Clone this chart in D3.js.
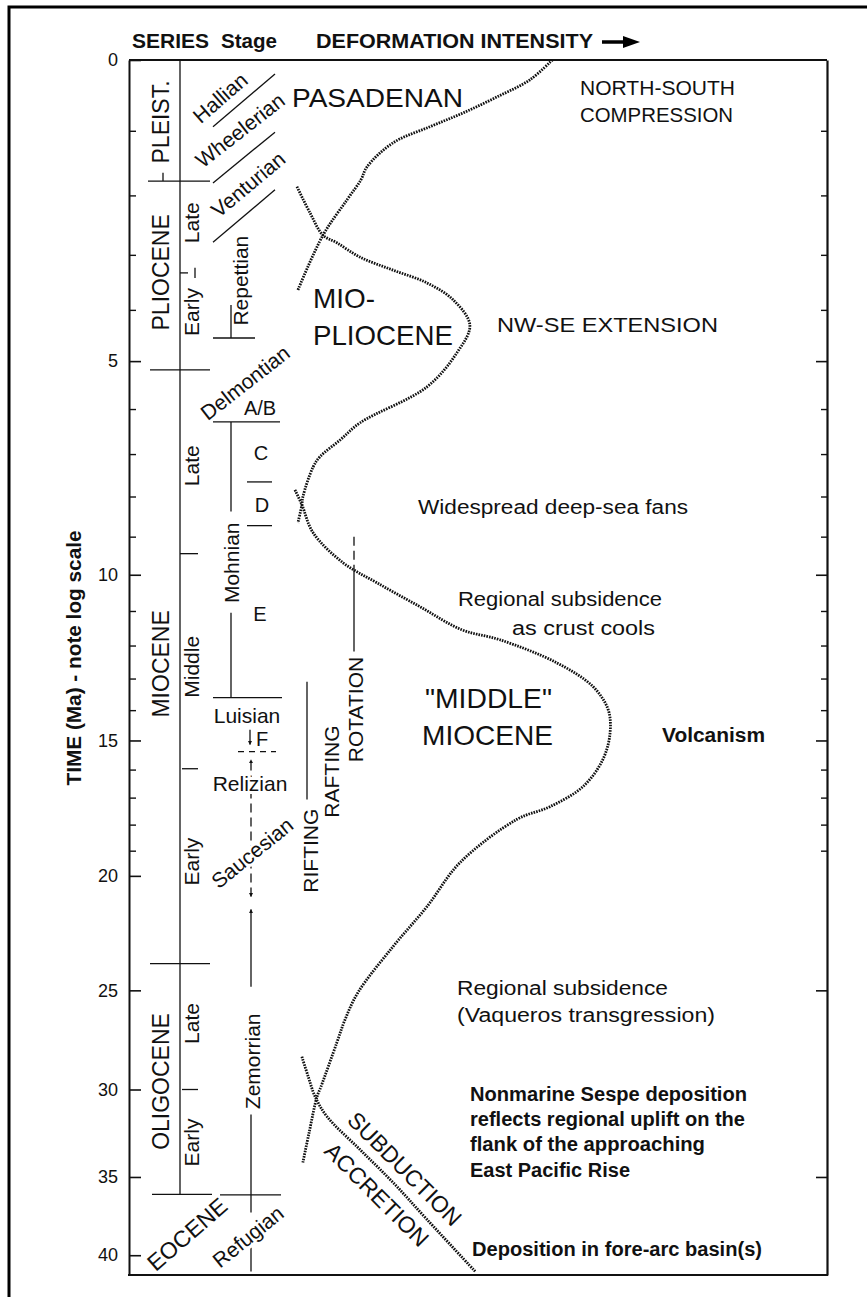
<!DOCTYPE html>
<html><head><meta charset="utf-8">
<script src="https://cdn.jsdelivr.net/npm/d3@7"></script>
<style>
body{margin:0;background:#fff}
svg{display:block}
text{font-family:"Liberation Sans",Arial,Helvetica,sans-serif}
</style>
</head><body>
<svg id="c" width="867" height="1297"></svg>
<script>
// ---------------- DATA ----------------
const majorTicks = [0,5,10,15,20,25,30,35,40];
const minorTicks = [1,2,3,4,6,7,8,9,11,12,13,14,16,17,18,19];
const rightMajorTicks = [5,10,15,25,35];

const seriesNames = ["PLEIST.","PLIOCENE","MIOCENE","OLIGOCENE"];
const seriesLabelAge = [0.87,3.31,12.55,29.57];
const eoceneLabelAge = 38.6;
const seriesBoundaryAges = [1.77,5.18,23.76,36.07];

const subSeriesNames = ["Late","Early","Late","Middle","Early","Late","Early"];
const subSeriesLabelAge = [2.45,4.04,7.27,12.64,19.43,26.6,32.96];
const subSeriesBoundaryAges = [3.32,9.44,15.97,30.0];

const stageNames = ["Hallian","Wheelerian","Venturian","Repettian","Delmontian","Mohnian","Luisian","Relizian","Saucesian","Zemorrian","Refugian"];
const stageLabelAge = [0.52,0.99,1.82,3.46,5.44,9.68,14.16,16.5,19.08,28.51,38.75];
const zoneNames = ["A/B","C","D","E","F"];
const zoneLabelAge = [5.97,6.97,8.20,11.08,14.94];
const diagonalBoundaryAges = [[0.94,0.19],[1.80,1.02],[2.78,1.91]];
const stageBoundaryAges = [4.54,6.28,7.65,8.72,13.6,36.1];
const dashedBoundaryAge = 15.38;

const tectonicNames = ["RIFTING","RAFTING","ROTATION"];
const tectonicLabelAge = [19.0,16.07,13.98];

// deformation-intensity curves: age (Ma) and relative intensity (0-100)
const pasadenanAge = [0,0.27,0.51,0.74,0.94,1.18,1.55,1.75,2.07,2.66,3.63];
const pasadenanIntensity = [79.5,72.7,62.7,52.4,42.4,31.2,23.3,21.5,17.3,10,2.4];
const mioPlioAge = [1.86,2.29,2.66,2.79,3.04,3.27,3.50,3.81,4.29,4.83,5.53,6.30,6.68,7.06,7.30,8.01,8.20,8.65];
const mioPlioIntensity = [2.1,6.1,10,14.2,21.2,31.2,41.5,49.4,54.5,50.6,41.5,21.2,15.2,9.1,7.0,3.9,3.6,2.4];
const midMioAge = [7.84,8.20,8.90,9.68,10.22,10.88,11.54,11.83,12.52,13.25,13.98,14.74,15.65,16.6,17.33,17.8,19.47,21.27,23.0,25.1,26.4,27.55,29.84,30.38,32.38,34.13];
const midMioIntensity = [1.5,3.6,7.0,16.1,26.4,39.4,52.1,63.6,80.9,91.8,96.4,97.0,94.8,88.8,78.8,68.8,51.5,41.5,31.2,20.6,16.7,14.2,9.4,8.2,5.8,3.9];
const subductionAge = [28.27,29.3,30.38,31.48,33.37,35.33,37.65,41.1];
const subductionIntensity = [3.6,5.5,7.6,11.2,21.2,31.2,41.5,56.1];

// ---------------- SETUP ----------------
const svg = d3.select("#c");
const INK = "#111";
const AGE_SHIFT = 10;                       // "log scale": log(age + 10)
const y = d3.scaleLog().domain([AGE_SHIFT, AGE_SHIFT + 41.35]).range([60, 1275]);
const Y = t => y(t + AGE_SHIFT);
const x = d3.scaleLinear().domain([0,100]).range([290,620]);
const PLOT = {left:129, right:827, top:60, bottom:1275};

const defs = svg.append("defs");
defs.append("marker").attr("id","arr").attr("viewBox","0 0 10 10").attr("refX",9).attr("refY",5)
  .attr("markerWidth",4).attr("markerHeight",4).attr("markerUnits","userSpaceOnUse")
  .attr("orient","auto-start-reverse")
  .append("path").attr("d","M0,0 L10,5 L0,10 z").attr("fill",INK);

function label(s, o){
  const t = svg.append("text").text(s)
    .attr("font-size", o.size).attr("font-weight", o.weight || "normal")
    .attr("fill", INK).attr("text-anchor", o.anchor || "start");
  const yy = o.y !== undefined ? o.y : Y(o.age);
  if (o.rotate !== undefined){
    t.attr("transform", `translate(${o.x},${yy}) rotate(${o.rotate})`).attr("dy","0.36em");
  } else {
    t.attr("x", o.x).attr("y", yy);
    if (o.center) t.attr("dy","0.36em");
  }
  if (o.len) t.attr("textLength", o.len).attr("lengthAdjust","spacingAndGlyphs");
  if (o.halo) t.attr("stroke","#fff").attr("stroke-width",6).attr("paint-order","stroke").attr("stroke-linejoin","round");
  return t;
}
function hline(x0,x1,age,w,dash){
  return svg.append("line").attr("x1",x0).attr("x2",x1).attr("y1",Y(age)).attr("y2",Y(age))
    .attr("stroke",INK).attr("stroke-width",w||1.3).attr("stroke-dasharray",dash||null);
}
function vline(xx,a0,a1,w,dash){
  return svg.append("line").attr("x1",xx).attr("x2",xx).attr("y1",Y(a0)).attr("y2",Y(a1))
    .attr("stroke",INK).attr("stroke-width",w||1.3).attr("stroke-dasharray",dash||null);
}

// ---------------- OUTER FRAME & HEADER ----------------
svg.append("path").attr("d","M9,1297 V7 H867").attr("fill","none").attr("stroke","#000").attr("stroke-width",3);
label("SERIES",{x:132,y:48,size:21,weight:"bold",len:77});
label("Stage",{x:221,y:48,size:21,weight:"bold",len:56});
label("DEFORMATION INTENSITY",{x:316,y:48,size:21,weight:"bold",len:277});
svg.append("line").attr("x1",602).attr("x2",626).attr("y1",42).attr("y2",42).attr("stroke","#000").attr("stroke-width",3.5);
svg.append("path").attr("d","M623,36 L640,42 L623,48 Z").attr("fill","#000");

// ---------------- AXES ----------------
const gL = svg.append("g").attr("transform",`translate(${PLOT.left},0)`)
  .call(d3.axisLeft(y).tickValues(majorTicks.map(t=>t+AGE_SHIFT)).tickFormat(d=>Math.round(d-AGE_SHIFT))
    .tickSizeInner(-12).tickSizeOuter(0).tickPadding(11));
gL.attr("font-family",null).attr("font-size",18).attr("color",INK);
gL.select(".domain").attr("stroke-width",2);
gL.selectAll(".tick line").attr("stroke-width",1.6);
const gLm = svg.append("g").attr("transform",`translate(${PLOT.left},0)`)
  .call(d3.axisLeft(y).tickValues(minorTicks.map(t=>t+AGE_SHIFT)).tickFormat("").tickSizeInner(-7).tickSizeOuter(0));
gLm.attr("color",INK); gLm.select(".domain").remove(); gLm.selectAll(".tick line").attr("stroke-width",1.4);

const gR = svg.append("g").attr("transform",`translate(${PLOT.right},0)`)
  .call(d3.axisRight(y).tickValues(rightMajorTicks.map(t=>t+AGE_SHIFT)).tickFormat("").tickSizeInner(-11).tickSizeOuter(0));
gR.attr("color",INK); gR.select(".domain").attr("stroke-width",2.2); gR.selectAll(".tick line").attr("stroke-width",1.6);
const gRm = svg.append("g").attr("transform",`translate(${PLOT.right},0)`)
  .call(d3.axisRight(y).tickValues(minorTicks.map(t=>t+AGE_SHIFT)).tickFormat("").tickSizeInner(-6).tickSizeOuter(0));
gRm.attr("color",INK); gRm.select(".domain").remove(); gRm.selectAll(".tick line").attr("stroke-width",1.4);

svg.append("line").attr("x1",PLOT.left).attr("x2",PLOT.right).attr("y1",PLOT.top).attr("y2",PLOT.top).attr("stroke",INK).attr("stroke-width",2);
svg.append("line").attr("x1",PLOT.left-1).attr("x2",PLOT.right+1).attr("y1",PLOT.bottom).attr("y2",PLOT.bottom).attr("stroke",INK).attr("stroke-width",2.2);

label("TIME (Ma) - note log scale",{x:73,y:658,size:21,weight:"bold",anchor:"middle",rotate:-90,len:255});

// ---------------- SERIES / SUB-SERIES COLUMNS ----------------
vline(180,0,seriesBoundaryAges[3]);
const seriesSpan = [[148,210],[150,210],[150,210],[152,212]];
seriesBoundaryAges.forEach((a,i)=>hline(seriesSpan[i][0],seriesSpan[i][1],a));
vline(163,1.64,seriesBoundaryAges[0]);
const subSpan = [[180,188],[180,198],[182,198],[182,198]];
subSeriesBoundaryAges.forEach((a,i)=>hline(subSpan[i][0],subSpan[i][1],a));
vline(195,3.23,3.41);

seriesNames.forEach((n,i)=>label(n,{x:161,age:seriesLabelAge[i],size:23,anchor:"middle",rotate:-90}));
label("EOCENE",{x:187,age:eoceneLabelAge,size:23,anchor:"middle",rotate:-41});
subSeriesNames.forEach((n,i)=>label(n,{x:191,age:subSeriesLabelAge[i],size:21,anchor:"middle",rotate:-90}));

// ---------------- STAGE COLUMN ----------------
diagonalBoundaryAges.forEach(([a0,a1])=>{
  svg.append("line").attr("x1",213).attr("y1",Y(a0)).attr("x2",275).attr("y2",Y(a1)).attr("stroke",INK).attr("stroke-width",1.3);
});
const stageSpan = [[213,255],[213,280],[247,272],[247,272],[213,282],[220,281]];
stageBoundaryAges.forEach((a,i)=>hline(stageSpan[i][0],stageSpan[i][1],a));
hline(238,276,dashedBoundaryAge,1.3,"6,5");
vline(231,3.91,stageBoundaryAges[0]);             // Repettian bracket
vline(231,stageBoundaryAges[1],8.37);              // Mohnian bracket
vline(231,11.05,stageBoundaryAges[4]);
vline(250,14.64,15.14).attr("marker-end","url(#arr)");           // F arrow
vline(251,20.85,15.65,1.3,"9,5").attr("marker-end","url(#arr)").attr("marker-start","url(#arr)");
vline(251,24.83,21.39).attr("marker-end","url(#arr)");
vline(251,31.37,37.2);
vline(251,39.48,41.1);

const stageLayout = [
  {x:220,rot:-41},{x:240,rot:-38},{x:248,rot:-40},{x:240,rot:-90},{x:245,rot:-38},
  {x:231,rot:-90},{x:247},{x:250,halo:true},{x:252,rot:-39,halo:true},{x:252,rot:-90},{x:248,rot:-39,halo:true}
];
stageNames.forEach((n,i)=>{
  const L = stageLayout[i];
  label(n,{x:L.x,age:stageLabelAge[i],size:21,anchor:"middle",rotate:L.rot,center:true,halo:L.halo});
});
const zoneX = [260,261,262,260,262];
zoneNames.forEach((n,i)=>label(n,{x:zoneX[i],age:zoneLabelAge[i],size:20,anchor:"middle",center:true}));

// ---------------- RIFTING / RAFTING / ROTATION ----------------
vline(307,13.1,17.07);
vline(354,9.0,9.95,1.3,"9,5");
vline(354,9.95,12.18);
const tectonicX = [310,331,355];
tectonicNames.forEach((n,i)=>label(n,{x:tectonicX[i],age:tectonicLabelAge[i],size:21,anchor:"middle",rotate:-90}));

// ---------------- CURVES ----------------
const curve = d3.line().x(d=>x(d[1])).y(d=>Y(d[0])).curve(d3.curveCatmullRom.alpha(0.5));
[[pasadenanAge,pasadenanIntensity],[mioPlioAge,mioPlioIntensity],[midMioAge,midMioIntensity],[subductionAge,subductionIntensity]]
 .forEach(([a,v])=>{
  svg.append("path").datum(d3.zip(a,v)).attr("d",curve).attr("fill","none")
    .attr("stroke","#111").attr("stroke-width",2.8).attr("stroke-dasharray","1.6,1.1");
 });

// ---------------- ANNOTATIONS ----------------
label("PASADENAN",{x:292,age:0.65,size:26,len:171});
label("NORTH-SOUTH",{x:580,age:0.48,size:21,len:155});
label("COMPRESSION",{x:580,age:0.87,size:21,len:153});
label("MIO-",{x:313,age:3.96,size:28,len:62});
label("PLIOCENE",{x:313,age:4.68,size:28,len:140});
label("NW-SE EXTENSION",{x:718,age:4.42,size:21,anchor:"end",len:221});
label("Widespread deep-sea fans",{x:418,age:8.42,size:20,len:270});
label("Regional subsidence",{x:458,age:10.85,size:20,len:204});
label("as crust cools",{x:512,age:11.68,size:20,len:143});
label("\"MIDDLE\"",{x:425,age:13.92,size:28,len:127});
label("MIOCENE",{x:422,age:15.14,size:28,len:131});
label("Volcanism",{x:662,age:15.04,size:20,weight:"bold",len:103});
label("Regional subsidence",{x:457,age:25.2,size:20,len:211});
label("(Vaqueros transgression)",{x:457,age:26.5,size:20,len:258});
const sespeLines = ["Nonmarine Sespe deposition","reflects regional uplift on the","flank of the approaching","East Pacific Rise"];
const sespeAges = [30.65,32.04,33.48,35.03];
const sespeLen = [277,275,235,160];
sespeLines.forEach((s,i)=>label(s,{x:470,age:sespeAges[i],size:20,weight:"bold",len:sespeLen[i]}));
label("Deposition in fore-arc basin(s)",{x:472,age:40.08,size:20,weight:"bold",len:290});

// SUBDUCTION / ACCRETION on either side of the subduction curve
label("SUBDUCTION",{x:405,age:34.5,size:23,anchor:"middle",rotate:45,len:150});
label("ACCRETION",{x:377,age:36.07,size:23,anchor:"middle",rotate:45,len:136});
</script>
</body></html>
